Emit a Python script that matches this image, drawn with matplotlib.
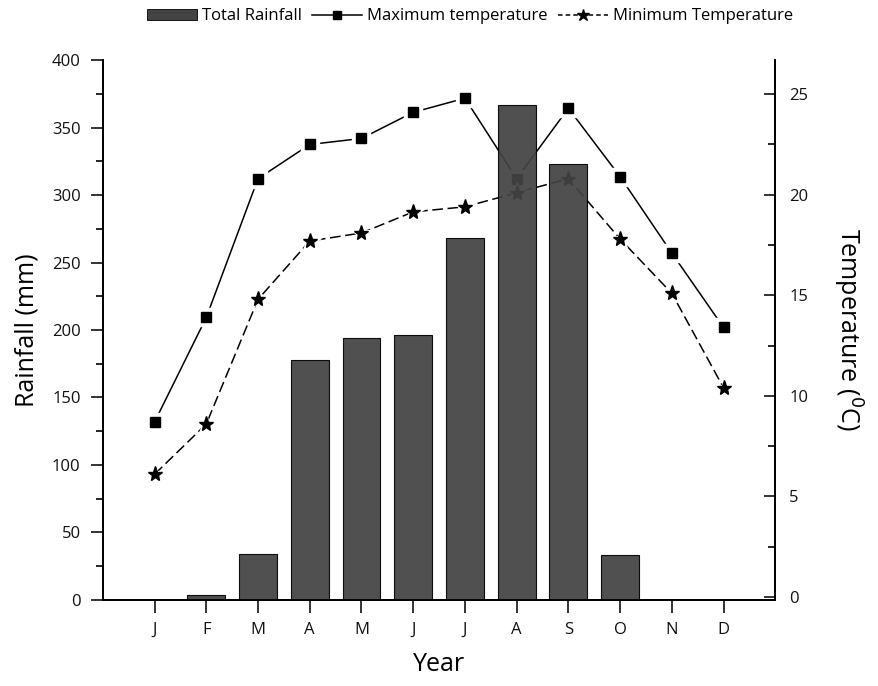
import matplotlib
matplotlib.use('Agg')
import matplotlib.pyplot as plt
from matplotlib.lines import Line2D
from matplotlib.patches import Patch

plt.rcParams['font.family'] = ['Open Sans', 'DejaVu Sans']

# Monthly climate record
months = ['J', 'F', 'M', 'A', 'M', 'J', 'J', 'A', 'S', 'O', 'N', 'D']
rainfall = [0, 4, 34, 178, 194, 196, 268, 367, 323, 33, 0, 0]
max_temp = [8.7, 13.9, 20.8, 22.5, 22.8, 24.1, 24.8, 20.8, 24.3, 20.9, 17.1, 13.4]
min_temp = [6.1, 8.6, 14.8, 17.7, 18.1, 19.15, 19.4, 20.1, 20.8, 17.8, 15.1, 10.4]

x = list(range(1, len(months) + 1))

fig = plt.figure(figsize=(8.79, 6.86), dpi=100)
ax = fig.add_axes([0.117, 0.1254, 0.765, 0.7871])
ax2 = ax.twinx()

# temperature lines (drawn underneath the bars)
ax2.plot(x, max_temp, color='black', lw=1.1)
ax2.plot(x, max_temp, ls='none', marker='s', ms=13, color='white')
ax2.plot(x, max_temp, ls='none', marker='s', ms=7.5, color='black')
ax2.plot(x, min_temp, color='black', lw=1.1, dashes=(7, 3))
ax2.plot(x, min_temp, ls='none', marker='*', ms=16, color='white')
ax2.plot(x, min_temp, ls='none', marker='*', ms=11, color='black')

ax.bar(x, rainfall, width=0.73, color='#434343', edgecolor='black', lw=0.8, alpha=0.93)
ax.set_zorder(ax2.get_zorder() + 1)
ax.patch.set_visible(False)

ax.set_xlim(0, 13)
ax.set_ylim(0, 400)
ax2.set_ylim(-0.15, 26.7)

ax.set_xticks(x)
ax.set_xticklabels(months)
ax.set_yticks(range(0, 401, 50))
ax.set_yticks(range(25, 400, 50), minor=True)
ax2.set_yticks(range(0, 26, 5))
ax2.set_yticks([2.5, 7.5, 12.5, 17.5, 22.5], minor=True)

ax.spines['top'].set_visible(False)
ax2.spines['top'].set_visible(False)
for a in (ax, ax2):
    for s in a.spines.values():
        s.set_linewidth(1.3)

ax.tick_params(axis='both', which='major', direction='out', length=9, width=1.2,
               labelsize=12, colors='#111111', pad=7)
ax.tick_params(axis='y', which='minor', direction='out', length=5, width=1.2)
ax.tick_params(axis='x', pad=7)
ax2.tick_params(axis='y', which='major', direction='in', length=8, width=1.2,
                labelsize=12, colors='#111111', pad=10)
ax2.tick_params(axis='y', which='minor', direction='in', length=5, width=1.2)

ax.set_xlabel('Year', fontsize=18, labelpad=10)
ax.set_ylabel('Rainfall (mm)', fontsize=18, labelpad=9)
ax2.set_ylabel('Temperature ($^0$C)', fontsize=18, rotation=-90, labelpad=40)

handles = [
    Patch(facecolor='#434343', edgecolor='black', lw=0.6),
    Line2D([], [], color='black', lw=1.1, marker='s', ms=6),
    Line2D([], [], color='black', lw=1.1, dashes=(3, 2), marker='*', ms=9),
]
labels = ['Total Rainfall', 'Maximum temperature', 'Minimum Temperature']
fig.legend(handles, labels, loc='center', bbox_to_anchor=(0.535, 0.976), ncol=3,
           frameon=False, fontsize=12, handlelength=3.0, columnspacing=0.6,
           handletextpad=0.3)

fig.savefig('out.png', dpi=100)
